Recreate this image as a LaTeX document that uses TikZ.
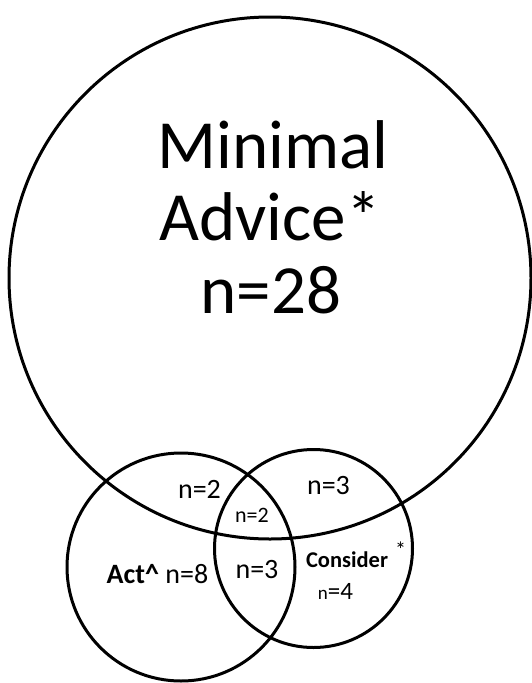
\documentclass[tikz,border=0pt]{standalone}
\usepackage{fontspec}
\setmainfont{Carlito}
\tikzset{
	venn/.style={circle, draw, line width=3pt, inner sep=0pt},
	title/.style={anchor=base, inner sep=0pt, font=\fontsize{69}{72}\selectfont},
	count/.style={anchor=base, inner sep=0pt, font=\fontsize{28}{30}\selectfont},
	small count/.style={anchor=base, inner sep=0pt, font=\fontsize{22}{24}\selectfont}
}

\begin{document}
\begin{tikzpicture}[x=1pt, y=-1pt]
\useasboundingbox (0, 0) rectangle (532, 683);

% the three sets
\node[venn, minimum size=522pt] (minimal) at (270, 278) {};
\node[venn, minimum size=228pt] (act) at (181, 567) {};
\node[venn, minimum size=198pt] (consider) at (313.5, 548.5) {};

% big set label
\node[title] (minimalname) at (273, 168) {Minimal};
\node[title] (advicename) at (270, 240) {Advice*};
\node[title] (minimaln) at (271, 313) {n=28};

% overlaps
\node[count] (minact) at (199.5, 498) {n=2};
\node[count] (mincons) at (328.5, 494) {n=3};
\node[small count] (all) at (252, 522) {n=2};
\node[count] (actcons) at (257, 578) {n=3};

% small sets
\node[count] (actname) at (157.5, 583) {\textbf{Act\^{}} n=8};
\node[small count, font=\fontsize{22.5}{24}\bfseries] (considername) at (347, 567) {Consider};
\node[small count] (considerstar) at (400.5, 557) {*};
\node[count, font=\fontsize{25}{27}\selectfont] (considern) at (335.5, 599) {{\fontsize{19}{20}\selectfont n}=4};
\end{tikzpicture}
\end{document}
